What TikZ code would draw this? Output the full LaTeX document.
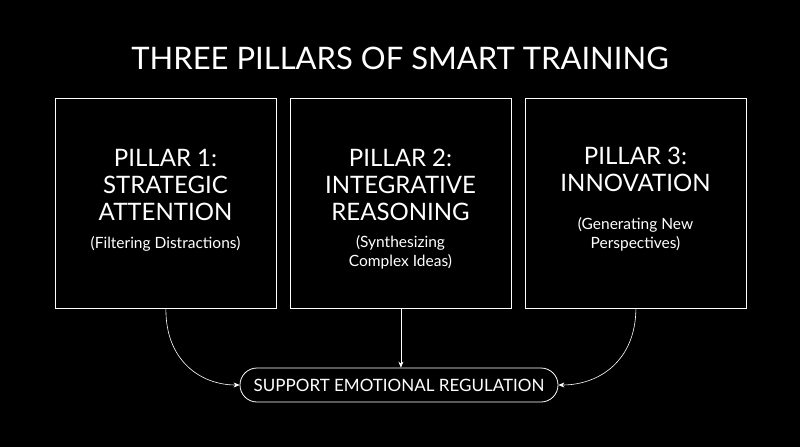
\documentclass[tikz,border=0pt]{standalone}
\usepackage{fontspec}
\setmainfont{Lato}
\usetikzlibrary{arrows.meta}
\begin{document}
\begin{tikzpicture}[x=1pt,y=-1pt,
  box/.style={draw=white,line width=0.8pt,minimum width=221pt,minimum height=210pt,anchor=north west},
  txt/.style={text=white,align=center},
  big/.style={txt,font=\fontsize{24}{27}\selectfont},
  small/.style={txt,font=\fontsize{15.5}{19}\selectfont},
  arr/.style={draw=white,line width=0.6pt,-{Stealth[length=6pt,width=5pt]}}]
\fill[black] (0,0) rectangle (800,447);
\useasboundingbox (0,0) rectangle (800,447);
\node[txt,font=\fontsize{31}{34}\selectfont] (title) at (400,58) {THREE PILLARS OF SMART TRAINING};
\node[box] (b1) at (55,98) {};
\node[box] (b2) at (290,98) {};
\node[box] (b3) at (525,98) {};
\node[big] (t1) at (165.5,185) {PILLAR 1:\\STRATEGIC\\ATTENTION};
\node[small] (s1) at (165.5,244) {(Filtering Distractions)};
\node[big] (t2) at (400.5,185) {PILLAR 2:\\INTEGRATIVE\\REASONING};
\node[small] (s2) at (400.5,252) {(Synthesizing\\Complex Ideas)};
\node[big] (t3) at (635.5,169) {PILLAR 3:\\INNOVATION};
\node[small] (s3) at (635.5,234) {(Generating New\\Perspectives)};
\node[draw=white,line width=0.8pt,rounded corners=17pt,minimum width=318pt,minimum height=34pt,
  txt,font=\fontsize{17}{19}\selectfont] (p) at (399,385) {SUPPORT EMOTIONAL REGULATION};
\draw[arr] (b1.south) .. controls (165.5,360) and (200,385) .. (p.west);
\draw[arr] (b2.south) -- (p.north -| b2.south);
\draw[arr] (b3.south) .. controls (635.5,360) and (600,385) .. (p.east);
\end{tikzpicture}
\end{document}
